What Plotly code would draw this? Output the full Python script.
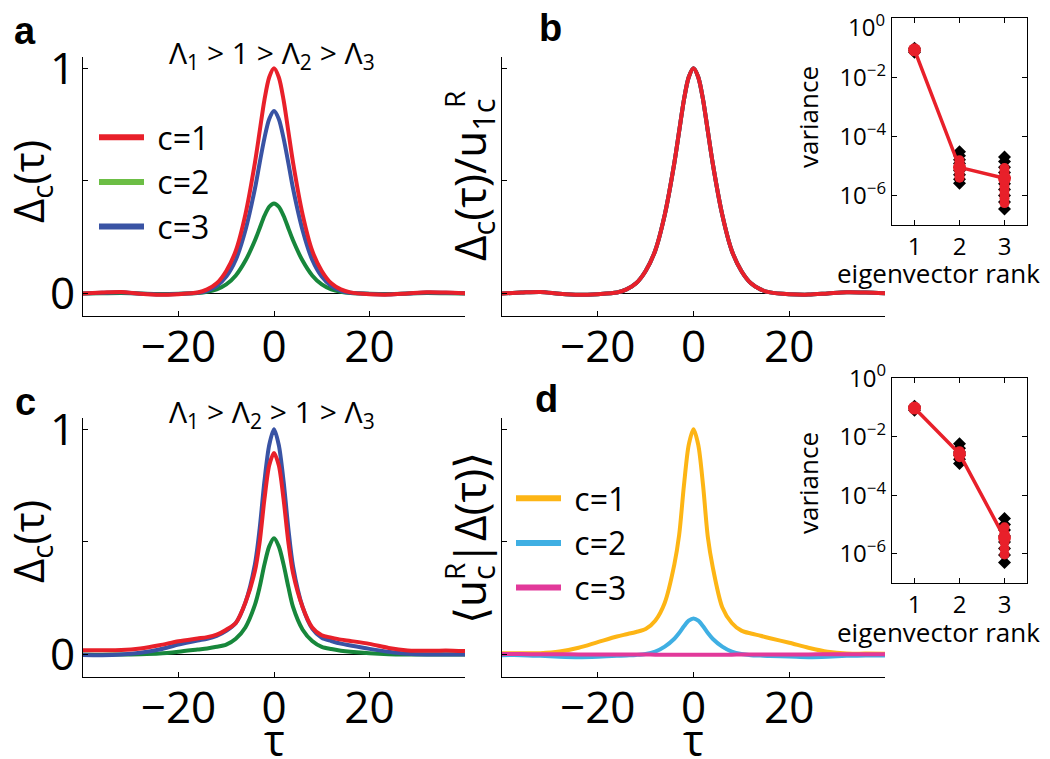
import plotly.graph_objects as go

W, H = 1050, 759
OX, OY = 8, 8  # page margin of the browser
FONT = "Open Sans"
BOLD = "Liberation Sans"

# lag axis shared by every curve
tau = [-40, -36, -32, -28, -24, -20, -16, -14, -12, -10, -8, -6, -4, -3, -2, -1, 0,
       1, 2, 3, 4, 6, 8, 10, 12, 14, 16, 20, 24, 28, 32, 36, 40]

# panel a: Lambda1 > 1 > Lambda2 > Lambda3
a_c1 = [0.0, 0.004, 0.007, -0.001, -0.006, -0.003, 0.004, 0.018, 0.045, 0.10, 0.19, 0.35, 0.58, 0.72, 0.86, 0.96, 1.0,
        0.96, 0.86, 0.72, 0.58, 0.35, 0.19, 0.10, 0.045, 0.018, 0.005, -0.003, -0.005, 0.0, 0.005, 0.004, 0.001]
a_c2 = [0.0, 0.001, 0.002, 0.0, -0.002, -0.001, 0.002, 0.007, 0.018, 0.04, 0.08, 0.145, 0.235, 0.29, 0.345, 0.385, 0.40,
        0.385, 0.345, 0.29, 0.235, 0.145, 0.08, 0.04, 0.018, 0.007, 0.002, -0.001, -0.002, 0.0, 0.002, 0.001, 0.0]
a_c3 = [0.0, 0.003, 0.005, -0.001, -0.005, -0.002, 0.003, 0.012, 0.033, 0.075, 0.15, 0.28, 0.465, 0.58, 0.69, 0.775, 0.81,
        0.775, 0.69, 0.58, 0.465, 0.28, 0.15, 0.075, 0.033, 0.012, 0.003, -0.002, -0.004, 0.0, 0.004, 0.003, 0.001]

# panel b: normalised curves collapse onto one
b_c1 = [0.0, 0.004, 0.007, -0.001, -0.006, -0.003, 0.004, 0.018, 0.045, 0.10, 0.19, 0.35, 0.58, 0.72, 0.86, 0.96, 1.0,
        0.96, 0.86, 0.72, 0.58, 0.35, 0.19, 0.10, 0.045, 0.018, 0.005, -0.003, -0.005, 0.0, 0.005, 0.004, 0.001]
b_c2 = b_c1
b_c3 = b_c1

# panel c: Lambda1 > Lambda2 > 1 > Lambda3
c_c1 = [0.019, 0.019, 0.02, 0.027, 0.041, 0.059, 0.071, 0.077, 0.088, 0.11, 0.14, 0.23, 0.37, 0.50, 0.69, 0.84, 0.895,
        0.84, 0.69, 0.50, 0.36, 0.21, 0.12, 0.085, 0.075, 0.066, 0.06, 0.047, 0.029, 0.018, 0.016, 0.018, 0.015]
c_c2 = [0.0, -0.001, 0.0, 0.001, 0.004, 0.012, 0.022, 0.027, 0.034, 0.044, 0.07, 0.12, 0.22, 0.30, 0.40, 0.48, 0.516,
        0.48, 0.40, 0.30, 0.21, 0.11, 0.06, 0.034, 0.024, 0.017, 0.012, 0.005, 0.001, 0.0, 0.0, 0.0, 0.0]
c_c3 = [-0.002, -0.003, 0.0, 0.008, 0.022, 0.044, 0.062, 0.07, 0.083, 0.105, 0.14, 0.23, 0.40, 0.56, 0.77, 0.93, 1.0,
        0.93, 0.77, 0.56, 0.39, 0.21, 0.115, 0.074, 0.06, 0.048, 0.04, 0.025, 0.012, 0.003, 0.0, 0.0, 0.0]

# panel d: projections on right eigenvectors
d_c1 = [0.005, 0.005, 0.006, 0.013, 0.03, 0.055, 0.08, 0.09, 0.10, 0.113, 0.15, 0.23, 0.40, 0.53, 0.75, 0.93, 1.0,
        0.93, 0.75, 0.52, 0.39, 0.21, 0.14, 0.106, 0.093, 0.083, 0.072, 0.052, 0.03, 0.012, 0.004, 0.004, 0.003]
d_c2 = [-0.003, -0.003, -0.006, -0.01, -0.012, -0.01, -0.006, -0.004, -0.002, 0.002, 0.013, 0.035, 0.07, 0.095, 0.125, 0.15, 0.16,
        0.15, 0.125, 0.095, 0.07, 0.035, 0.013, 0.002, -0.003, -0.005, -0.007, -0.009, -0.012, -0.01, -0.006, -0.004, -0.005]
d_c3 = [0.002, 0.002, 0.001, 0.001, 0.0, 0.0, 0.0, 0.0, 0.0, 0.0, -0.001, -0.001, -0.001, -0.001, -0.001, -0.001, -0.001,
        -0.001, -0.001, -0.001, -0.001, -0.001, -0.001, 0.0, 0.0, 0.0, 0.0, 0.0, 0.0, 0.001, 0.001, 0.001, 0.001]

# insets: variance vs eigenvector rank
ranks = [1, 2, 3]
ib_mean = [0.085, 8.9e-6, 3.8e-6]
ib_black = {1: [0.07, 0.08, 0.095],
            2: [2.6e-6, 3.5e-6, 5e-6, 7e-6, 9e-6, 1.2e-5, 1.6e-5, 2.2e-5, 3.0e-5],
            3: [3.5e-7, 6e-7, 1e-6, 1.6e-6, 2.5e-6, 4e-6, 6e-6, 9e-6, 1.4e-5, 2e-5]}
ib_red = {1: [0.085],
          2: [4e-6, 5e-6, 6.5e-6, 8e-6, 1e-5, 1.25e-5, 1.55e-5],
          3: [5.5e-7, 8e-7, 1.1e-6, 1.5e-6, 2e-6, 2.8e-6, 3.8e-6, 5e-6, 6.5e-6, 8.5e-6]}
id_mean = [0.095, 2.6e-3, 3.5e-6]
id_black = {1: [0.08, 0.095, 0.11],
            2: [1.2e-3, 1.7e-3, 2.3e-3, 3e-3, 4e-3, 5.7e-3],
            3: [5e-7, 9e-7, 1.5e-6, 2.5e-6, 4e-6, 6.5e-6, 1e-5, 1.6e-5]}
id_red = {1: [0.095],
          2: [2e-3, 2.6e-3, 3.2e-3],
          3: [9.5e-7, 1.5e-6, 2.5e-6, 3.5e-6, 5e-6, 8e-6]}
var_ticks = [1, 1e-2, 1e-4, 1e-6]
var_labels = ["10<sup>0</sup>", "10<sup>\u22122</sup>", "10<sup>\u22124</sup>", "10<sup>\u22126</sup>"]

RED = "#E8202A"
GREEN = "#17873B"
GREEN_LEG = "#6CBE45"
BLUE = "#3953A4"
ORANGE = "#FDB515"
SKY = "#3FAFE3"
PINK = "#E2399A"


def px(x):
    return (x - OX) / W


def py(y):
    return 1 - (y - OY) / H


fig = go.Figure()


def curve(xa, ya, y, color):
    fig.add_trace(go.Scatter(x=tau, y=y, mode="lines", xaxis=xa, yaxis=ya, showlegend=False,
                             line=dict(color=color, width=4, shape="spline", smoothing=0.8)))


curve("x", "y", a_c2, GREEN)
curve("x", "y", a_c3, BLUE)
curve("x", "y", a_c1, RED)
curve("x2", "y2", b_c2, GREEN)
curve("x2", "y2", b_c3, BLUE)
curve("x2", "y2", b_c1, RED)
curve("x3", "y3", c_c2, GREEN)
curve("x3", "y3", c_c3, BLUE)
curve("x3", "y3", c_c1, RED)
curve("x4", "y4", d_c1, ORANGE)
curve("x4", "y4", d_c2, SKY)
curve("x4", "y4", d_c3, PINK)

# legend entries
for name, col in [("c=1", RED), ("c=2", GREEN_LEG), ("c=3", BLUE)]:
    fig.add_trace(go.Scatter(x=[None], y=[None], mode="lines", name="\u00a0" + name, legend="legend",
                             xaxis="x", yaxis="y", line=dict(color=col, width=6)))
for name, col in [("c=1", ORANGE), ("c=2", SKY), ("c=3", PINK)]:
    fig.add_trace(go.Scatter(x=[None], y=[None], mode="lines", name="\u00a0" + name, legend="legend2",
                             xaxis="x4", yaxis="y4", line=dict(color=col, width=6)))


def inset(xa, ya, black, red, mean):
    bx, by, rx, ry = [], [], [], []
    for r in ranks:
        bx += [r] * len(black[r])
        by += black[r]
        rx += [r] * len(red[r])
        ry += red[r]
    fig.add_trace(go.Scatter(x=bx, y=by, mode="markers", xaxis=xa, yaxis=ya, showlegend=False,
                             marker=dict(symbol="diamond", size=10, color="black")))
    fig.add_trace(go.Scatter(x=rx, y=ry, mode="markers", xaxis=xa, yaxis=ya, showlegend=False,
                             marker=dict(symbol="circle", size=10, color=RED)))
    fig.add_trace(go.Scatter(x=ranks, y=mean, mode="lines+markers", xaxis=xa, yaxis=ya, showlegend=False,
                             line=dict(color=RED, width=3.5), marker=dict(size=13, color=RED)))


inset("x5", "y5", ib_black, ib_red, ib_mean)
inset("x6", "y6", id_black, id_red, id_mean)

main_x = dict(range=[-40, 40], showline=True, linecolor="black", linewidth=1.3, ticks="inside",
              ticklen=5, tickcolor="black", tickvals=[-20, 0, 20, 40], ticktext=["\u221220", "0", "20", ""],
              tickfont=dict(size=44, family=FONT, color="black"), ticklabelstandoff=-8,
              showgrid=False, zeroline=False)


def main_y(labels):
    return dict(range=[-0.1, 1.05], showline=True, linecolor="black", linewidth=1.3, ticks="inside",
                ticklen=5, tickcolor="black", tickvals=[0, 0.5, 1], ticktext=labels,
                tickfont=dict(size=44, family=FONT, color="black"), ticklabelstandoff=-2, showgrid=False,
                zeroline=True, zerolinecolor="black", zerolinewidth=1)


def inset_y(labels):
    return dict(type="log", range=[-7, 0.005], showline=True, mirror="allticks", linecolor="black",
                linewidth=1.3, ticks="inside", ticklen=5, tickcolor="black", tickvals=var_ticks,
                ticktext=labels, tickfont=dict(size=24, family=FONT, color="black"),
                ticklabeloverflow="allow", showgrid=False, zeroline=False)


inset_x = dict(range=[0.5, 3.5], showline=True, mirror="allticks", linecolor="black", linewidth=1.3,
               ticks="inside", ticklen=5, tickcolor="black", tickvals=[1, 2, 3],
               tickfont=dict(size=24, family=FONT, color="black"), showgrid=False, zeroline=False)

fig.update_layout(
    width=W, height=H, margin=dict(l=0, r=0, t=0, b=0, autoexpand=False),
    paper_bgcolor="white", plot_bgcolor="white",
    font=dict(family=FONT, color="black"),
    xaxis=dict(main_x, domain=[px(83), px(465)], anchor="y"),
    yaxis=dict(main_y(["0", "", "1"]), domain=[py(316), py(57)], anchor="x"),
    xaxis2=dict(main_x, domain=[px(502), px(885)], anchor="y2"),
    yaxis2=dict(main_y(["", "", ""]), domain=[py(316), py(57)], anchor="x2"),
    xaxis3=dict(main_x, domain=[px(83), px(465)], anchor="y3"),
    yaxis3=dict(main_y(["0", "", "1"]), domain=[py(677), py(418)], anchor="x3"),
    xaxis4=dict(main_x, domain=[px(502), px(885)], anchor="y4"),
    yaxis4=dict(main_y(["", "", ""]), domain=[py(677), py(418)], anchor="x4"),
    xaxis5=dict(inset_x, domain=[px(892), px(1027)], anchor="y5"),
    # top label of this inset sits at the page edge, it is drawn as an annotation below
    yaxis5=dict(inset_y([""] + var_labels[1:]), domain=[py(225), py(18)], anchor="x5"),
    xaxis6=dict(inset_x, domain=[px(892), px(1027)], anchor="y6"),
    yaxis6=dict(inset_y(var_labels), domain=[py(583), py(378)], anchor="x6"),
    legend=dict(x=px(94), y=py(110), xanchor="left", yanchor="top", bgcolor="rgba(0,0,0,0)",
                font=dict(size=32, family=FONT), tracegroupgap=0, itemwidth=45),
    legend2=dict(x=px(511), y=py(471), xanchor="left", yanchor="top", bgcolor="rgba(0,0,0,0)",
                 font=dict(size=32, family=FONT), tracegroupgap=0, itemwidth=45),
)

ann = []


def text(x, y, s, size, angle=0, family=FONT, xanchor="center"):
    ann.append(dict(x=px(x), y=py(y), xref="paper", yref="paper", text=s, showarrow=False,
                    xanchor=xanchor, yanchor="middle", textangle=angle,
                    font=dict(size=size, family=family, color="black")))


# panel letters
text(25, 31, "<b>a</b>", 38, family=BOLD)
text(550, 28, "<b>b</b>", 38, family=BOLD)
text(25, 402, "<b>c</b>", 38, family=BOLD)
text(546, 399, "<b>d</b>", 38, family=BOLD)
# regime titles
text(272, 54, "\u039b<sub>1</sub> > 1 > \u039b<sub>2</sub> > \u039b<sub>3</sub>", 30)
text(272, 413, "\u039b<sub>1</sub> > \u039b<sub>2</sub> > 1 > \u039b<sub>3</sub>", 30)
# y labels
text(30, 182, "\u0394<sub>c</sub>(\u03c4)", 42, angle=-90)
text(30, 542, "\u0394<sub>c</sub>(\u03c4)", 42, angle=-90)
text(471, 180, "\u0394<sub>c</sub>(\u03c4)/u<sub>1c</sub>", 44, angle=-90)
text(454, 100, "R", 28, angle=-90)
text(471, 538, "\u27e8u<sub>c</sub>|\u0394(\u03c4)\u27e9", 44, angle=-90)
text(454, 572, "R", 28, angle=-90)
# x labels
text(274, 739, "\u03c4", 44)
text(693, 739, "\u03c4", 44)
# inset labels
text(887, 26, var_labels[0], 24, xanchor="right")
text(808, 117, "variance", 26, angle=-90)
text(808, 483, "variance", 26, angle=-90)
text(938, 273, "eigenvector rank", 26)
text(938, 632, "eigenvector rank", 26)

fig.update_layout(annotations=ann)
fig.write_html("out.html")
